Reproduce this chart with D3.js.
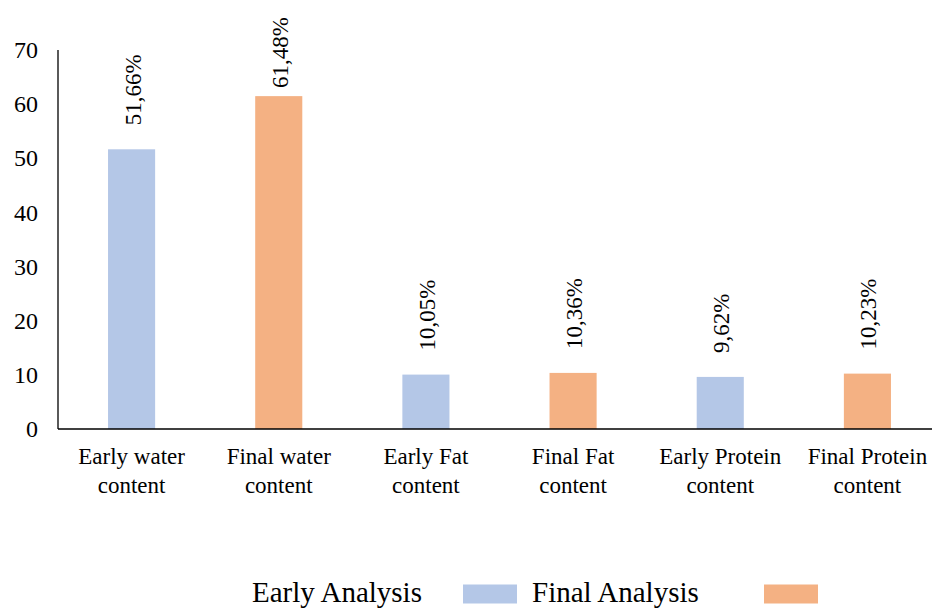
<!DOCTYPE html>
<html>
<head>
<meta charset="utf-8">
<script src="https://cdn.jsdelivr.net/npm/d3@7"></script>
<style>
  body { margin: 0; background: #fff; }
</style>
</head>
<body>
<div id="chart"></div>
<script>
// data
const categories = ["Early water content", "Final water content", "Early Fat content",
                    "Final Fat content", "Early Protein content", "Final Protein content"]
const catLines = [["Early water", "content"], ["Final water", "content"], ["Early Fat", "content"],
                  ["Final Fat", "content"], ["Early Protein", "content"], ["Final Protein", "content"]]
const values = [51.66, 61.48, 10.05, 10.36, 9.62, 10.23]
const valueLabels = ["51,66%", "61,48%", "10,05%", "10,36%", "9,62%", "10,23%"]
const groups = ["Early Analysis", "Final Analysis"]
const yTicks = [0, 10, 20, 30, 40, 50, 60, 70]

const W = 940, H = 608
const colors = ["#B4C7E7", "#F4B183"]
const FONT = "'Liberation Serif', 'Times New Roman', Times, serif"

const svg = d3.select("#chart").append("svg")
    .attr("width", W)
    .attr("height", H)
    .style("font-family", FONT)

const x = d3.scaleBand()
    .domain(categories)
    .range([58, 941])
    .paddingInner(0.68)
    .paddingOuter(0.34)

const y = d3.scaleLinear()
    .domain([0, 70])
    .range([429, 50])

// y axis
const yAxis = svg.append("g")
    .attr("transform", "translate(58,0)")
    .call(d3.axisLeft(y).tickValues(yTicks).tickSize(0).tickPadding(20))
yAxis.attr("font-family", null).attr("font-size", null)
yAxis.select(".domain").attr("stroke", "#000").attr("stroke-width", 1.3)
    .attr("d", "M0," + y(70) + "V" + y(0))
yAxis.selectAll("text")
    .style("font-family", FONT)
    .style("font-size", "24px")
    .attr("fill", "#000")

// bars
svg.selectAll("rect.bar")
    .data(values)
    .enter()
    .append("rect")
    .attr("class", "bar")
    .attr("x", (d, i) => x(categories[i]))
    .attr("y", d => y(d))
    .attr("width", x.bandwidth())
    .attr("height", d => y(0) - y(d))
    .attr("fill", (d, i) => colors[i % 2])

// baseline
svg.append("line")
    .attr("x1", 58).attr("x2", 932)
    .attr("y1", y(0)).attr("y2", y(0))
    .attr("stroke", "#000").attr("stroke-width", 1.3)

// value labels, rotated
svg.selectAll("text.val")
    .data(values)
    .enter()
    .append("text")
    .attr("class", "val")
    .attr("transform", (d, i) => {
        const cx = x(categories[i]) + x.bandwidth() / 2 + 9
        const by = Math.max(y(d) - 24, 88)
        return "translate(" + cx + "," + by + ") rotate(-90)"
    })
    .style("font-family", FONT)
    .style("font-size", "23px")
    .text((d, i) => valueLabels[i])

// category labels
const cat = svg.selectAll("text.cat")
    .data(catLines)
    .enter()
    .append("text")
    .attr("class", "cat")
    .attr("text-anchor", "middle")
    .style("font-family", FONT)
    .style("font-size", "23px")
cat.each(function (lines, i) {
    const cx = x(categories[i]) + x.bandwidth() / 2
    d3.select(this).selectAll("tspan")
        .data(lines)
        .enter()
        .append("tspan")
        .attr("x", cx)
        .attr("y", (l, j) => 464 + j * 29)
        .text(l => l)
})

// legend (text first, swatch after, as in the original)
const legX = [252, 532]
const swX = [463, 764]
groups.forEach((g, i) => {
    svg.append("text")
        .attr("x", legX[i])
        .attr("y", 602)
        .style("font-family", FONT)
        .style("font-size", "29px")
        .text(g)
    svg.append("rect")
        .attr("x", swX[i])
        .attr("y", 584.5)
        .attr("width", 54)
        .attr("height", 19)
        .attr("fill", colors[i])
})
</script>
</body>
</html>
